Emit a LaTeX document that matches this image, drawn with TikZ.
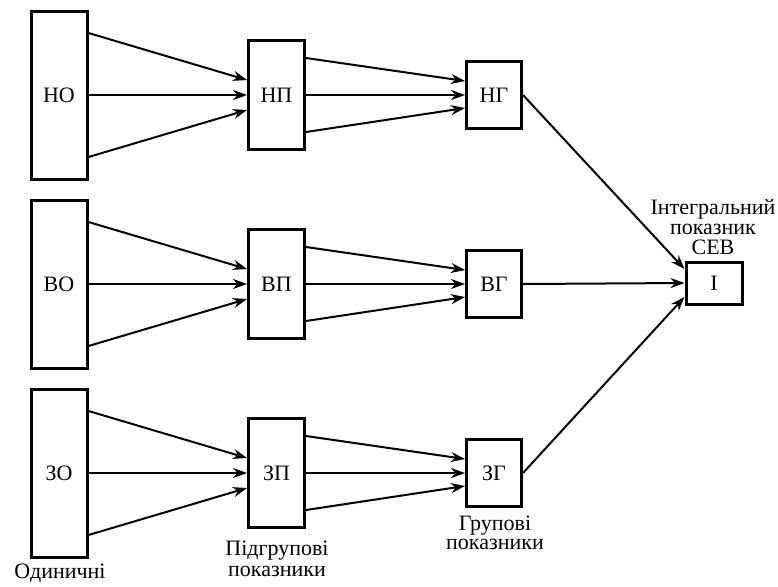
\documentclass[tikz,border=0pt]{standalone}
\usepackage{fontspec}
\setmainfont{Liberation Serif}
\usetikzlibrary{arrows.meta}

\begin{document}
\begin{tikzpicture}[
    x=0.5pt, y=-0.5pt,
    box/.style={draw, line width=1.5pt, inner sep=0pt, font=\fontsize{11}{11}\selectfont},
    obox/.style={box, minimum width=28pt, minimum height=84pt},
    pbox/.style={box, minimum width=28pt, minimum height=54.5pt},
    gbox/.style={box, minimum width=27.5pt, minimum height=33.5pt},
    ibox/.style={box, minimum width=28pt, minimum height=21pt},
    arrow/.style={-{Stealth[length=7pt, width=5pt]}, line width=1pt},
    label/.style={align=center, inner sep=0pt, anchor=north, text=black}
  ]
  \useasboundingbox (0,0) rectangle (778,586);

  % Nodes
  \node[obox] (NO) at (59,95) {НО};
  \node[pbox] (NP) at (276.5,95) {НП};
  \node[gbox] (NG) at (494,95) {НГ};

  \node[obox] (VO) at (59,284) {ВО};
  \node[pbox] (VP) at (276.5,284) {ВП};
  \node[gbox] (VG) at (494,284) {ВГ};

  \node[obox] (ZO) at (59,473) {ЗО};
  \node[pbox] (ZP) at (276.5,473) {ЗП};
  \node[gbox] (ZG) at (494,473) {ЗГ};

  \node[ibox] (I) at (714,283) {I};

  \node[label, font=\fontsize{11}{10}\selectfont] (Ilbl) at (713,199) {Інтегральний\\показник\\СЕВ};
  \node[label, font=\fontsize{11}{9.5}\selectfont] (Glbl) at (495,516) {Групові\\показники};
  \node[label, font=\fontsize{11}{10.5}\selectfont] (Plbl) at (277,541) {Підгрупові\\показники};
  \node[label, font=\fontsize{11}{11}\selectfont] (Olbl) at (60,564) {Одиничні};

  % Arrows
  \draw[arrow] ([yshift=31pt]NO.east) -- ([yshift=7.5pt]NP.west);
  \draw[arrow] (NO.east) -- (NP.west);
  \draw[arrow] ([yshift=-31pt]NO.east) -- ([yshift=-7.5pt]NP.west);
  \draw[arrow] ([yshift=18.5pt]NP.east) -- ([yshift=7pt]NG.west);
  \draw[arrow] (NP.east) -- (NG.west);
  \draw[arrow] ([yshift=-18.5pt]NP.east) -- ([yshift=-6.5pt]NG.west);

  \draw[arrow] ([yshift=31pt]VO.east) -- ([yshift=7.5pt]VP.west);
  \draw[arrow] (VO.east) -- (VP.west);
  \draw[arrow] ([yshift=-31pt]VO.east) -- ([yshift=-7.5pt]VP.west);
  \draw[arrow] ([yshift=18.5pt]VP.east) -- ([yshift=7pt]VG.west);
  \draw[arrow] (VP.east) -- (VG.west);
  \draw[arrow] ([yshift=-18.5pt]VP.east) -- ([yshift=-6.5pt]VG.west);

  \draw[arrow] ([yshift=31pt]ZO.east) -- ([yshift=7.5pt]ZP.west);
  \draw[arrow] (ZO.east) -- (ZP.west);
  \draw[arrow] ([yshift=-31pt]ZO.east) -- ([yshift=-7.5pt]ZP.west);
  \draw[arrow] ([yshift=18.5pt]ZP.east) -- ([yshift=7pt]ZG.west);
  \draw[arrow] (ZP.east) -- (ZG.west);
  \draw[arrow] ([yshift=-18.5pt]ZP.east) -- ([yshift=-6.5pt]ZG.west);

  \draw[arrow] (NG.east) -- ([yshift=7pt]I.west);
  \draw[arrow] (VG.east) -- (I.west);
  \draw[arrow] (ZG.east) -- ([yshift=-7pt]I.west);
\end{tikzpicture}
\end{document}
